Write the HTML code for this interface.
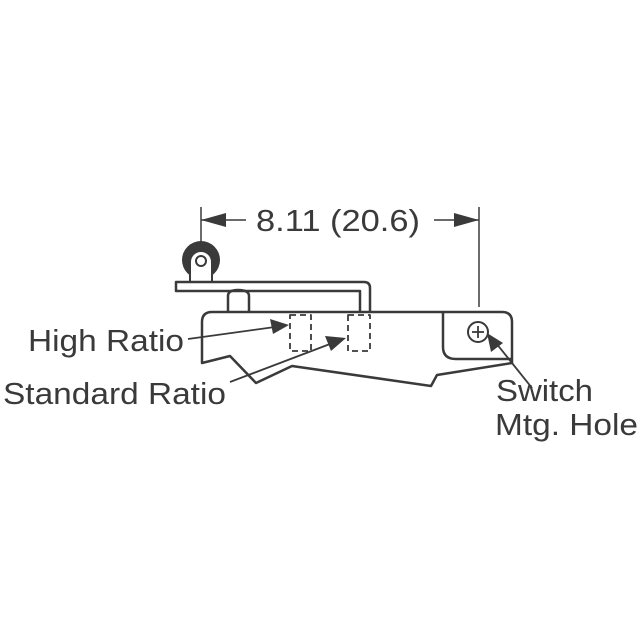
<!DOCTYPE html>
<html><head><style>
html,body{margin:0;padding:0;background:#fff;}
svg{display:block;}
text{font-family:"Liberation Sans",sans-serif;fill:#3a3a3a;font-size:31px;}
</style></head><body>
<svg width="640" height="640" viewBox="0 0 640 640" xmlns="http://www.w3.org/2000/svg">
<g stroke="#3a3a3a" stroke-width="2.5" fill="none" stroke-linejoin="round">
<line x1="201" y1="207" x2="201" y2="258" stroke-width="1.5"/>
<line x1="479" y1="207" x2="479" y2="307" stroke-width="1.5"/>
<line x1="201" y1="220" x2="246" y2="220" stroke-width="1.5"/>
<line x1="434" y1="220" x2="479" y2="220" stroke-width="1.5"/>
</g>
<polygon points="201,220 226,213 226,227" fill="#3a3a3a"/>
<polygon points="479,220 454,213 454,227" fill="#3a3a3a"/>
<text x="256" y="231" textLength="164" lengthAdjust="spacingAndGlyphs">8.11 (20.6)</text>

<circle cx="201" cy="260" r="19" fill="#3a3a3a"/>
<path d="M190,282 L190,262 A11,11 0 0 1 212,262 L212,282 Z" fill="#fff" stroke="#3a3a3a" stroke-width="2"/>
<circle cx="201" cy="261" r="5" fill="#fff" stroke="#3a3a3a" stroke-width="2"/>

<g stroke="#3a3a3a" stroke-width="2.5" fill="none" stroke-linejoin="round">
<path d="M360,311 L360,291 L176,291 L176,282 L364,282 Q370,282 370,288 L370,311" fill="#fff"/>
<path d="M228,311 L228,296 Q228,290 238,290 Q249,290 249,296 L249,311"/>
<path d="M212,312 L502,312 Q512,312 512,322 L512,363 L437,375 L431,386 L292,366 L256,383 L230,356 L202,363 L202,322 Q202,312 212,312 Z"/>
<path d="M443,312 L443,347 Q443,359 456,359 L512,359"/>
<circle cx="478" cy="332" r="10" stroke-width="2"/>
<line x1="472" y1="332" x2="484" y2="332" stroke-width="1.8"/>
<line x1="478" y1="326" x2="478" y2="338" stroke-width="1.8"/>
<g stroke-dasharray="6,4" stroke-width="1.8">
<rect x="290" y="315" width="21" height="36"/>
<rect x="348" y="315" width="22" height="36"/>
</g>
<line x1="188" y1="339" x2="275" y2="327" stroke-width="1.8"/>
<line x1="230" y1="382" x2="330" y2="344" stroke-width="1.8"/>
<line x1="532" y1="388" x2="496" y2="343" stroke-width="1.8"/>
</g>
<polygon points="289,325 270,319 273,334" fill="#3a3a3a"/>
<polygon points="346,338 325,336 331,351" fill="#3a3a3a"/>
<polygon points="487,333 491,352 503,343" fill="#3a3a3a"/>

<text x="28" y="351" textLength="156" lengthAdjust="spacingAndGlyphs">High Ratio</text>
<text x="3" y="404" textLength="223" lengthAdjust="spacingAndGlyphs">Standard Ratio</text>
<text x="496" y="401" textLength="97" lengthAdjust="spacingAndGlyphs">Switch</text>
<text x="495" y="435" textLength="143" lengthAdjust="spacingAndGlyphs">Mtg. Hole</text>
</svg>
</body></html>
